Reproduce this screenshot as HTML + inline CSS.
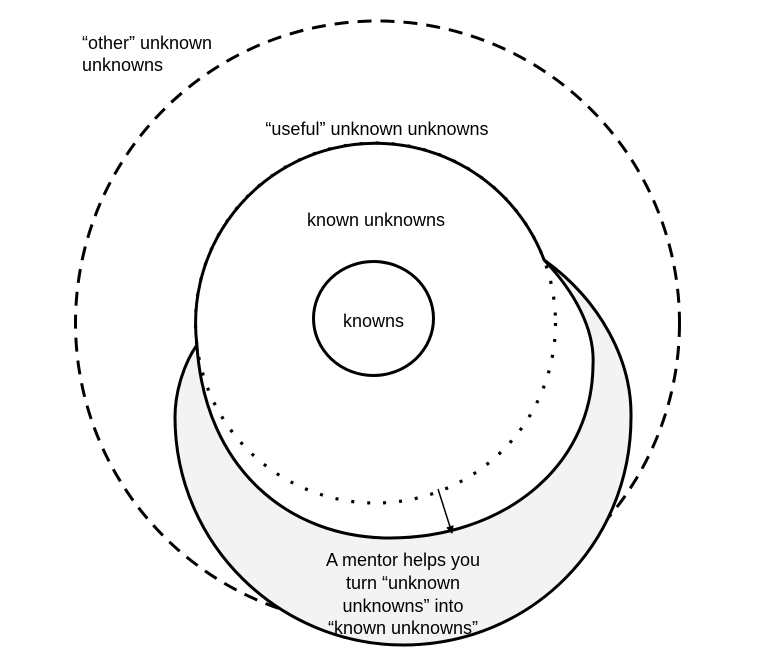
<!DOCTYPE html>
<html><head><meta charset="utf-8"><style>
html,body{margin:0;padding:0;background:#fff;}
svg{display:block;}
text{font-family:"Liberation Sans",Arial,sans-serif;font-size:18px;fill:#000;}
</style></head><body>
<svg width="765" height="657" viewBox="0 0 765 657" xmlns="http://www.w3.org/2000/svg">
<defs><marker id="ah" markerWidth="8" markerHeight="8" refX="7" refY="4" orient="auto" markerUnits="userSpaceOnUse"><path d="M0,0 L8,4 L0,8 z" fill="#000"/></marker></defs>
<circle cx="377.5" cy="323" r="302" fill="none" stroke="#000" stroke-width="3" stroke-dasharray="14 9"/>
<path d="M544.1,260 C600,300 632,360 631,417 C631,545 530,645 403,645 C280,645 175,545 175,417 C175,390 185,362 196.9,345 Z" fill="#f3f3f3" stroke="#000" stroke-width="3"/>
<path d="M544.1,260 C575,292 595,330 593,365 C592,470 500,538 390,538 C290,538 205,470 196.9,345 A180,180 0 0 1 544.1,260 Z" fill="#fff" stroke="#000" stroke-width="3" stroke-linejoin="round"/>
<circle cx="375.5" cy="323" r="180" fill="none" stroke="#000" stroke-width="3.2" stroke-dasharray="3 13"/>
<ellipse cx="373.5" cy="318.5" rx="60" ry="57" fill="#fff" stroke="#000" stroke-width="3"/>
<line x1="438" y1="489" x2="452" y2="533" stroke="#000" stroke-width="1.5" marker-end="url(#ah)"/>
<text x="82" y="49">“other” unknown</text>
<text x="82" y="71">unknowns</text>
<text x="377" y="135" text-anchor="middle">“useful” unknown unknowns</text>
<text x="376" y="226" text-anchor="middle">known unknowns</text>
<text x="373.5" y="327" text-anchor="middle">knowns</text>
<text x="403" y="566" text-anchor="middle">A mentor helps you</text>
<text x="403" y="589" text-anchor="middle">turn “unknown</text>
<text x="403" y="612" text-anchor="middle">unknowns” into</text>
<text x="403" y="634" text-anchor="middle">“known unknowns”</text>
</svg>
</body></html>
